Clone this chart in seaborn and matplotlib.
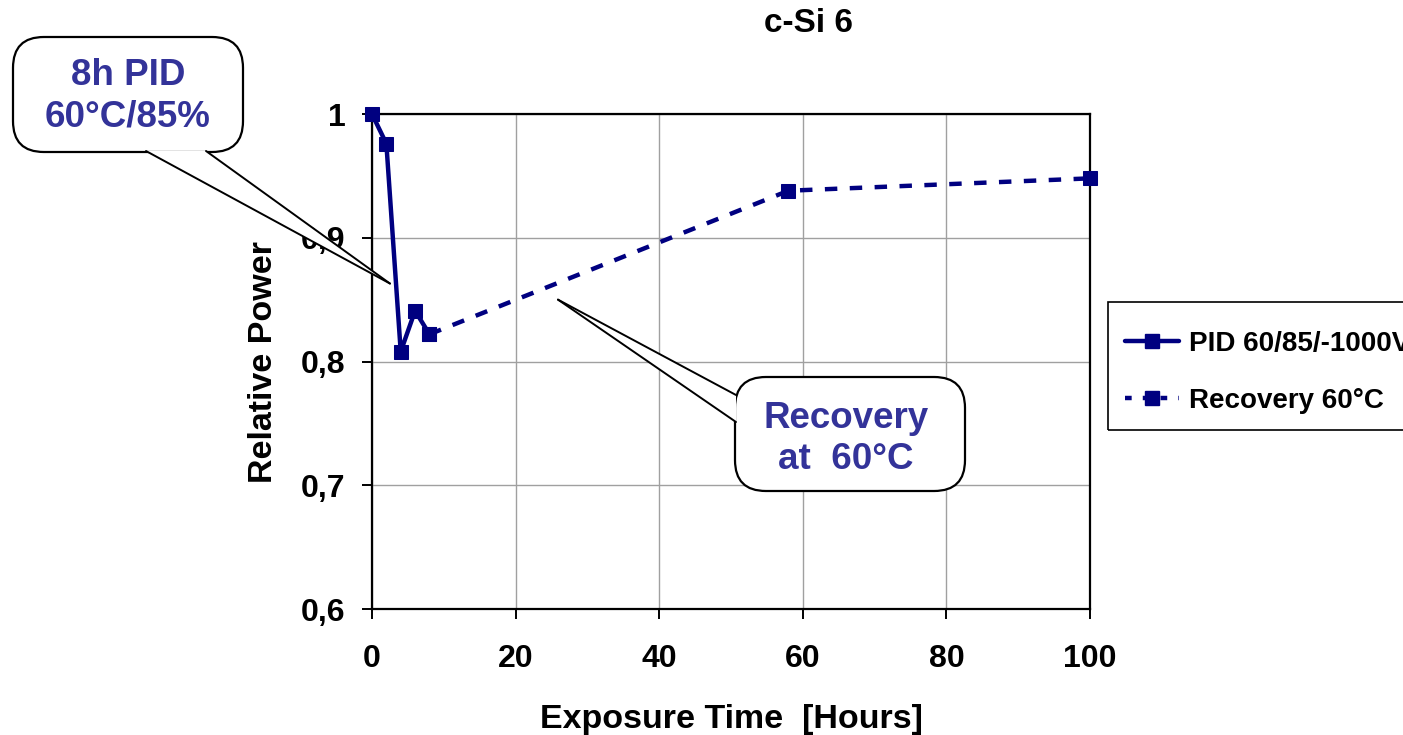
import numpy as np
import pandas as pd
import matplotlib
matplotlib.use("Agg")
import matplotlib.pyplot as plt
import seaborn as sns
from matplotlib.patches import FancyBboxPatch, Polygon, Rectangle
from matplotlib.lines import Line2D

# ---- data ----
pid_hours = [0, 2, 4, 6, 8]
pid_power = [1.0, 0.976, 0.808, 0.841, 0.822]
rec_hours = [8, 58, 100]
rec_power = [0.822, 0.938, 0.948]
pid_label = "PID 60/85/-1000V"
rec_label = "Recovery 60°C"
x_ticks = [0, 20, 40, 60, 80, 100]
y_ticks = [0.6, 0.7, 0.8, 0.9, 1.0]
y_tick_labels = ["0,6", "0,7", "0,8", "0,9", "1"]

sns.set_style("white")
plt.rcParams['font.family'] = ['Liberation Sans', 'DejaVu Sans']
plt.rcParams['font.weight'] = 'bold'
plt.rcParams['text.color'] = 'black'
plt.rcParams['axes.labelcolor'] = 'black'
plt.rcParams['xtick.color'] = 'black'
plt.rcParams['ytick.color'] = 'black'

W, H = 1403, 735
fig = plt.figure(figsize=(W / 100, H / 100), dpi=100)
ax = fig.add_axes([372 / W, 1 - 609 / H, (1090 - 372) / W, (609 - 114) / H])

navy = "#000080"
txtblue = "#333399"

df_pid = pd.DataFrame({"h": pid_hours, "p": pid_power})
df_rec = pd.DataFrame({"h": rec_hours, "p": rec_power})
sns.lineplot(data=df_pid, x="h", y="p", ax=ax, color=navy, lw=3.2,
             marker="s", markersize=10, markeredgecolor=navy, zorder=4, clip_on=False)
sns.lineplot(data=df_rec, x="h", y="p", ax=ax, color=navy, lw=3.2,
             marker="s", markersize=10, markeredgecolor=navy, zorder=3,
             linestyle=(0, (2.8, 2.8)), clip_on=False)

ax.set_xlim(0, 100)
ax.set_ylim(0.6, 1.0)
ax.set_xticks(x_ticks)
ax.set_yticks(y_ticks)
ax.set_yticklabels(y_tick_labels)
ax.grid(True, color="#a0a0a0", lw=1.0)
for s in ax.spines.values():
    s.set_visible(True)
    s.set_color("black")
    s.set_linewidth(1.6)
ax.tick_params(axis="both", direction="out", length=7, width=1.4,
               color="black", labelcolor="black", labelsize=23, bottom=True, left=True)
ax.tick_params(axis="x", pad=18)
ax.tick_params(axis="y", pad=12)
for lbl in ax.get_xticklabels() + ax.get_yticklabels():
    lbl.set_fontweight("bold")
ax.set_xlabel("Exposure Time  [Hours]", fontsize=24.5, fontweight="bold", labelpad=22)
ax.set_ylabel("Relative Power", fontsize=24.5, fontweight="bold", labelpad=16)

fig.text(808 / W, 1 - 24 / H, "c-Si 6", ha="center", va="center",
         fontsize=24, fontweight="bold")

handles = [
    Line2D([], [], color=navy, lw=3.2, marker="s", markersize=10),
    Line2D([], [], color=navy, lw=3.2, marker="s", markersize=10, linestyle=(0, (1.5, 2.5))),
]
leg = fig.legend(handles, [pid_label, rec_label], loc="upper left",
                 bbox_to_anchor=(1108 / W, 1 - 314 / H), bbox_transform=fig.transFigure,
                 borderaxespad=0, frameon=False,
                 prop={"size": 20, "weight": "bold"}, labelspacing=1.1,
                 handlelength=1.95, handletextpad=0.35, borderpad=0.62)
# legend frame drawn separately (runs past the right edge as in the source)
fig.patches.append(Rectangle((1108 / W, 1 - 430 / H), 320 / W, 128 / H,
                             transform=fig.transFigure, facecolor="none",
                             edgecolor="black", lw=1.2, zorder=5))


def px2fig(x, y):
    return (x / W, 1 - y / H)


def data2fig(x, y):
    disp = ax.transData.transform((x, y))
    return tuple(fig.transFigure.inverted().transform(disp))


def bubble(x0, y0, x1, y1, base1, base2, tip):
    fx0, fy0 = px2fig(x0, y1)
    fx1, fy1 = px2fig(x1, y0)
    box = FancyBboxPatch((fx0, fy0), fx1 - fx0, fy1 - fy0,
                         boxstyle="round,pad=0,rounding_size=0.022",
                         transform=fig.transFigure, facecolor="white",
                         edgecolor="black", lw=1.6, zorder=10,
                         mutation_aspect=W / H)
    fig.patches.append(box)
    b1 = px2fig(*base1)
    b2 = px2fig(*base2)
    t = data2fig(*tip)
    wedge = Polygon([b1, t, b2], closed=True, transform=fig.transFigure,
                    facecolor="white", edgecolor="none", zorder=11)
    fig.patches.append(wedge)
    for b in (b1, b2):
        fig.lines.append(Line2D([b[0], t[0]], [b[1], t[1]], color="black",
                                lw=1.4, transform=fig.transFigure, zorder=12))


# callout 1 : tip points near the PID drop
tip1 = (2.5, 0.863)
bubble(13, 37, 243, 152, (146, 151), (206, 151), tip1)
fig.text(128 / W, 1 - 96 / H, "8h PID\n60°C/85%", ha="center", va="center",
         color=txtblue, fontsize=26.5, fontweight="bold", linespacing=1.25, zorder=13)

# callout 2 : tip points to the recovery line
tip2 = (25.9, 0.850)
bubble(735, 377, 965, 491, (736, 395), (736, 422), tip2)
fig.text(846 / W, 1 - 439 / H, "Recovery\nat  60°C", ha="center", va="center",
         color=txtblue, fontsize=26.5, fontweight="bold", linespacing=1.25, zorder=13)

fig.savefig("out.png", dpi=100)
